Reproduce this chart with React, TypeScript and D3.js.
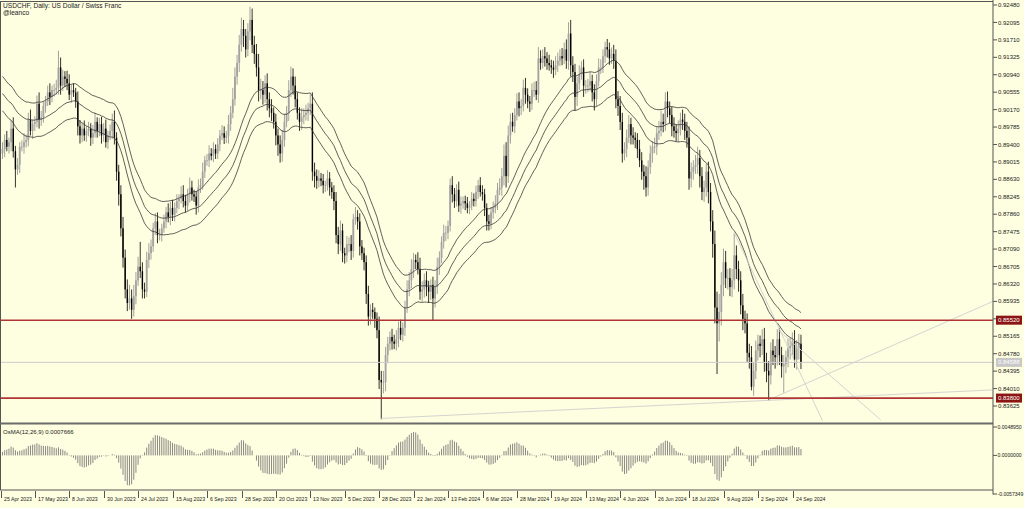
import { useEffect, useRef } from "react";
import * as d3 from "d3";

const W = 1024;
const H = 508;
const AXIS_X = 993;
const MAIN_TOP = 1.5;
const MAIN_BOTTOM = 423;
const SUB_TOP = 425;
const SUB_BOTTOM = 490;
const BG = "#fefee0";
const FONT = "'Liberation Sans', Arial, sans-serif";

// first bar of the chart and the days the broker has no daily bar
const firstDay = "2023-04-25";
const holidays = ["2023-12-25", "2024-01-01"];

// closes (in pips) of the bars before the first visible one, used by the indicators
const priorCloses = [
  9400, 9415, 9390, 9410, 9355, 9335, 9385, 9395, 9330, 9225, 9145, 9185, 9285, 9250, 9245, 9295,
  9185, 9150, 9190, 9215, 9200, 9195, 9225, 9190, 9170, 9140, 9160, 9130, 9150, 9110, 9095, 9125, 9070,
  9045, 9065, 9070, 9080, 9055, 8980, 8925, 8955, 8965, 8945, 8980, 8935, 8965, 8910, 8940, 8935, 8920,
];

// daily closes, in pips (0.0001)
const closes = [
  8930, 8950, 8935, 8945, 8975, 8925, 8885, 8895, 8935, 8935,
  8945, 8950, 8995, 8970, 8985, 8990, 9030, 8995, 9000, 9025,
  9035, 9055, 9045, 9060, 9060, 9065, 9110, 9070, 9090, 9085,
  9075, 9050, 9060, 9055, 9035, 8980, 8960, 8975, 8960, 8970,
  8975, 8955, 8965, 8990, 8970, 8985, 8960, 8975, 8945, 8960,
  8970, 8990, 8955, 8880, 8830, 8755, 8690, 8620, 8590, 8600,
  8575, 8605, 8640, 8670, 8660, 8620, 8615, 8685, 8700, 8715,
  8755, 8770, 8740, 8740, 8755, 8770, 8790, 8780, 8800, 8785,
  8800, 8815, 8820, 8830, 8815, 8805, 8830, 8845, 8830, 8825,
  8805, 8845, 8850, 8880, 8905, 8905, 8920, 8915, 8930, 8920,
  8940, 8960, 8965, 8955, 8960, 8985, 9010, 9040, 9090, 9120,
  9160, 9195, 9180, 9150, 9190, 9215, 9160, 9140, 9110, 9060,
  9060, 9050, 9075, 9040, 9020, 9010, 8990, 8960, 8940, 8920,
  8950, 8990, 9010, 9060, 9090, 9070, 9040, 9010, 8990, 9000,
  9005, 9010, 9020, 9030, 8880, 8870, 8860, 8865, 8860, 8850,
  8850, 8865, 8845, 8835, 8815, 8740, 8720, 8750, 8700, 8695,
  8720, 8720, 8705, 8775, 8780, 8770, 8715, 8700, 8680, 8610,
  8560, 8575, 8570, 8555, 8530, 8420, 8415, 8415, 8475, 8500,
  8515, 8505, 8500, 8510, 8535, 8520, 8535, 8580, 8620, 8640,
  8665, 8685, 8680, 8665, 8615, 8620, 8640, 8625, 8615, 8630,
  8600, 8625, 8670, 8690, 8725, 8745, 8745, 8760, 8850, 8830,
  8815, 8840, 8805, 8810, 8815, 8810, 8800, 8805, 8820, 8815,
  8835, 8850, 8835, 8830, 8800, 8770, 8765, 8790, 8800, 8810,
  8840, 8845, 8870, 8915, 8870, 8960, 8990, 8980, 9005, 9035,
  9020, 9025, 9065, 9050, 9035, 9030, 9060, 9060, 9050, 9130,
  9120, 9135, 9130, 9120, 9115, 9110, 9105, 9115, 9125, 9135,
  9130, 9150, 9125, 9185, 9115, 9100, 9045, 9075, 9095, 9110,
  9070, 9070, 9070, 9080, 9055, 9040, 9080, 9110, 9110, 9135,
  9155, 9150, 9130, 9140, 9125, 9040, 9025, 8990, 8920, 8930,
  8955, 8985, 8960, 8955, 8950, 8930, 8905, 8880, 8870, 8845,
  8890, 8920, 8935, 8935, 8965, 8970, 8990, 8985, 9035, 9020,
  9005, 8980, 8970, 8965, 8975, 8995, 8990, 8970, 8955, 8865,
  8880, 8890, 8895, 8910, 8870, 8835, 8845, 8880, 8835, 8770,
  8720, 8580, 8545, 8570, 8630, 8680, 8645, 8645, 8625, 8640,
  8695, 8665, 8640, 8585, 8555, 8545, 8480, 8470, 8405, 8440,
  8485, 8500, 8495, 8510, 8460, 8440, 8430, 8485, 8475, 8470,
  8510, 8475, 8450, 8455, 8470, 8490, 8495, 8505, 8465, 8490,
  8500, 8459,
];

// high above the body top, in pips
const upperWicks = [
  15, 12, 20, 10, 18, 25, 12, 15, 10, 14, 20, 12, 15, 22, 10, 12, 18, 25, 14, 10,
  12, 15, 20, 10, 14, 18, 37, 22, 15, 12, 18, 20, 12, 15, 10, 22, 14, 12, 18, 10,
  15, 12, 18, 20, 10, 14, 16, 12, 20, 10, 14, 18, 25, 12, 15, 20, 25, 18, 22, 30,
  20, 25, 18, 22, 55, 20, 15, 18, 22, 15, 12, 18, 20, 14, 10, 15, 12, 20, 14, 18,
  12, 15, 10, 18, 20, 14, 12, 22, 15, 10, 12, 18, 15, 20, 10, 14, 18, 12, 15, 10,
  14, 12, 18, 15, 10, 20, 15, 25, 20, 18, 22, 25, 20, 15, 18, 29, 25, 20, 22, 30,
  25, 20, 18, 22, 15, 20, 12, 18, 15, 20, 22, 18, 15, 22, 22, 18, 20, 15, 12, 20,
  15, 18, 12, 20, 25, 20, 15, 18, 12, 15, 10, 18, 14, 12, 15, 20, 18, 22, 15, 12,
  18, 15, 20, 12, 22, 15, 18, 14, 12, 15, 18, 12, 15, 10, 14, 30, 20, 25, 18, 15,
  12, 18, 15, 20, 14, 18, 12, 15, 20, 18, 22, 15, 12, 22, 25, 18, 15, 20, 14, 12,
  18, 15, 20, 14, 12, 18, 15, 12, 15, 20, 14, 12, 18, 15, 10, 12, 14, 10, 15, 12,
  14, 12, 18, 15, 12, 10, 15, 12, 14, 18, 15, 20, 18, 25, 30, 22, 18, 20, 15, 18,
  20, 15, 18, 22, 14, 12, 15, 18, 20, 25, 18, 15, 20, 14, 18, 12, 15, 20, 18, 15,
  18, 15, 22, 25, 30, 20, 18, 15, 20, 14, 18, 12, 15, 20, 14, 18, 15, 20, 18, 15,
  12, 18, 15, 14, 20, 25, 18, 22, 20, 15, 18, 20, 14, 18, 12, 15, 20, 18, 15, 22,
  15, 18, 12, 20, 15, 22, 25, 18, 20, 22, 15, 18, 20, 14, 18, 15, 22, 18, 20, 25,
  20, 15, 22, 25, 18, 20, 15, 18, 22, 20, 25, 30, 35, 40, 28, 30, 25, 20, 22, 25,
  50, 22, 18, 20, 25, 18, 22, 20, 25, 18, 22, 20, 18, 22, 25, 20, 22, 18, 25, 20,
  22, 25, 18, 20, 15, 22, 18, 20, 25, 18, 22, 20,
];

// low below the body bottom, in pips
const lowerWicks = [
  12, 18, 10, 15, 20, 14, 40, 12, 18, 10, 15, 12, 14, 10, 18, 15, 12, 20, 14, 12,
  15, 10, 18, 12, 14, 10, 15, 20, 12, 18, 15, 12, 18, 10, 14, 20, 18, 15, 12, 14,
  12, 18, 14, 10, 15, 12, 18, 14, 12, 15, 10, 18, 15, 20, 25, 18, 22, 20, 18, 15,
  20, 15, 18, 12, 15, 20, 15, 12, 18, 14, 12, 15, 18, 12, 14, 10, 15, 12, 18, 14,
  15, 12, 18, 10, 14, 15, 12, 18, 14, 12, 20, 15, 12, 10, 14, 12, 15, 10, 14, 12,
  12, 15, 10, 14, 12, 18, 15, 12, 14, 18, 20, 15, 25, 18, 15, 20, 18, 22, 20, 25,
  20, 22, 18, 25, 20, 18, 15, 22, 25, 20, 18, 15, 12, 18, 15, 20, 18, 15, 20, 18,
  15, 12, 18, 15, 20, 25, 18, 15, 12, 18, 15, 12, 18, 15, 20, 18, 22, 15, 20, 18,
  15, 18, 20, 15, 12, 18, 20, 15, 18, 22, 20, 18, 15, 20, 18, 20, 82, 25, 20, 18,
  15, 18, 12, 15, 18, 12, 15, 18, 12, 15, 18, 20, 15, 12, 18, 22, 18, 20, 25, 18,
  48, 20, 15, 18, 12, 15, 18, 14, 12, 18, 15, 12, 14, 18, 12, 15, 12, 14, 10, 12,
  12, 15, 10, 14, 18, 20, 15, 12, 14, 12, 15, 12, 18, 20, 25, 15, 18, 12, 15, 12,
  18, 15, 12, 20, 15, 18, 14, 15, 12, 18, 15, 12, 18, 15, 12, 14, 18, 12, 15, 12,
  15, 12, 18, 20, 25, 22, 30, 20, 15, 12, 25, 18, 15, 12, 20, 25, 15, 12, 14, 12,
  15, 18, 14, 12, 18, 20, 22, 18, 20, 15, 18, 12, 20, 15, 18, 20, 15, 18, 30, 20,
  18, 15, 20, 14, 18, 15, 12, 18, 15, 20, 18, 22, 15, 18, 20, 15, 18, 20, 22, 25,
  20, 18, 15, 20, 25, 18, 22, 20, 25, 22, 30, 35, 112, 40, 30, 25, 22, 25, 20, 22,
  20, 22, 25, 20, 25, 22, 20, 25, 8, 20, 18, 22, 25, 20, 22, 25, 55, 20, 22, 25,
  18, 22, 25, 58, 20, 22, 25, 20, 18, 22, 25, 15,
];

const priceTicks = [
  0.92480, 0.92095, 0.91710, 0.91325, 0.90940, 0.90555, 0.90170, 0.89785, 0.89400, 0.89015, 0.88630, 0.88245,
  0.87860, 0.87475, 0.87090, 0.86705, 0.86320, 0.85935, 0.85550, 0.85165, 0.84780, 0.84395, 0.84010, 0.83625,
];
const oscTicks = [0.004895, 0, -0.0057349];
const oscTickLabels = ["0.0048950", "0.0000000", "-0.0057349"];
const dateTicks = [
  "25 Apr 2023", "17 May 2023", "8 Jun 2023", "30 Jun 2023", "24 Jul 2023", "15 Aug 2023", "6 Sep 2023",
  "28 Sep 2023", "20 Oct 2023", "13 Nov 2023", "5 Dec 2023", "28 Dec 2023", "22 Jan 2024", "13 Feb 2024",
  "6 Mar 2024", "28 Mar 2024", "19 Apr 2024", "13 May 2024", "4 Jun 2024", "26 Jun 2024", "18 Jul 2024",
  "9 Aug 2024", "2 Sep 2024", "24 Sep 2024",
];

// horizontal levels drawn on the chart
const levelPrices = [0.8552, 0.838];
const levelLabels = ["0.85520", "0.83800"];
const bidPrice = 0.84588;
const bidLabel = "0.84588";

// trend lines: [bar, price] -> [bar, price]
const trendLines: [number, number, number, number][] = [
  [175.5, 0.8335, 460, 0.8398],
  [356, 0.8376, 460, 0.8593],
  [340, 0.8745, 381, 0.833],
  [360, 0.8532, 408, 0.8332],
];

// envelopes on an exponential MA of the close
const envPeriod = 34;
const envDeviation = 0.0042;
const osmaTitle = "OsMA(12,26,9) 0.0007666";

function sma(values: number[], n: number) {
  return values.map((_, i) => (i < n - 1 ? NaN : d3.mean(values.slice(i - n + 1, i + 1)) as number));
}
function ema(values: number[], n: number) {
  const k = 2 / (n + 1);
  const out: number[] = [];
  values.forEach((v, i) => out.push(i === 0 ? v : v * k + out[i - 1] * (1 - k)));
  return out;
}

export default function App() {
  const ref = useRef<SVGSVGElement>(null);

  useEffect(() => {
    if (!ref.current) return;
    const svg = d3.select(ref.current);
    svg.selectAll("*").remove();

    // bars
    const bars = closes.map((c, i) => {
      const close = c / 10000;
      const open = (i === 0 ? priorCloses[priorCloses.length - 1] : closes[i - 1]) / 10000;
      const high = Math.max(open, close) + upperWicks[i] / 10000;
      const low = Math.min(open, close) - lowerWicks[i] / 10000;
      return { i, open, close, high, low };
    });

    // trading dates
    const fmtIso = d3.utcFormat("%Y-%m-%d");
    const fmtLabel = d3.utcFormat("%-d %b %Y");
    const dates: Date[] = [];
    let d = d3.utcParse("%Y-%m-%d")(firstDay) as Date;
    while (dates.length < closes.length) {
      const dow = d.getUTCDay();
      if (dow !== 0 && dow !== 6 && !holidays.includes(fmtIso(d))) dates.push(d);
      d = d3.utcDay.offset(d, 1);
    }

    const x = d3.scaleLinear().domain([0, 368]).range([2.5, 794.5]);
    const y = d3.scaleLinear().domain([0.83625, 0.9248]).range([406, 5]);
    const yo = d3.scaleLinear().domain([-0.0057349, 0.004895]).range([491, 425]);

    // indicators
    const all = [...priorCloses, ...closes].map((v) => v / 10000);
    const n0 = priorCloses.length;
    const mid = ema(all, envPeriod).slice(n0);
    const e12 = ema(all, 12);
    const e26 = ema(all, 26);
    const macd = all.map((_, i) => e12[i] - e26[i]);
    const sig = sma(macd, 9);
    const osma = macd.map((m, i) => m - sig[i]).slice(n0);

    svg.append("rect").attr("width", W).attr("height", H).attr("fill", BG);

    const defs = svg.append("defs");
    defs.append("clipPath").attr("id", "clipMain").append("rect")
      .attr("x", 0).attr("y", MAIN_TOP).attr("width", AXIS_X).attr("height", MAIN_BOTTOM - MAIN_TOP);
    defs.append("clipPath").attr("id", "clipSub").append("rect")
      .attr("x", 0).attr("y", SUB_TOP).attr("width", AXIS_X).attr("height", SUB_BOTTOM - SUB_TOP);

    const main = svg.append("g").attr("clip-path", "url(#clipMain)");

    // candles
    const cg = main.append("g");
    cg.selectAll("line.wick").data(bars).enter().append("line")
      .attr("x1", (b) => x(b.i)).attr("x2", (b) => x(b.i))
      .attr("y1", (b) => y(b.high)).attr("y2", (b) => y(b.low))
      .attr("stroke", (b) => (b.close >= b.open ? "#8a8a8a" : "#000"))
      .attr("stroke-width", 0.8);
    cg.selectAll("rect.body").data(bars).enter().append("rect")
      .attr("x", (b) => x(b.i) - (b.close >= b.open ? 0.9 : 0.7))
      .attr("width", (b) => (b.close >= b.open ? 1.8 : 1.4))
      .attr("y", (b) => y(Math.max(b.open, b.close)))
      .attr("height", (b) => Math.max(0.8, Math.abs(y(b.open) - y(b.close))))
      .attr("fill", (b) => (b.close >= b.open ? "#a2a2a2" : "#000"));

    // envelopes
    [1 + envDeviation, 1, 1 - envDeviation].forEach((k) => {
      const line = d3.line<number>()
        .x((_, i) => x(i))
        .y((v) => y(v * k));
      main.append("path").attr("d", line(mid)).attr("fill", "none")
        .attr("stroke", "#3a3a3a").attr("stroke-width", 0.8);
    });

    // trend lines
    main.selectAll("line.trend").data(trendLines).enter().append("line")
      .attr("x1", (t) => x(t[0])).attr("y1", (t) => y(t[1]))
      .attr("x2", (t) => x(t[2])).attr("y2", (t) => y(t[3]))
      .attr("stroke", "#cfcfcf").attr("stroke-width", 0.9);

    // bid line
    main.append("line").attr("x1", 0).attr("x2", AXIS_X)
      .attr("y1", y(bidPrice)).attr("y2", y(bidPrice))
      .attr("stroke", "#cccccc").attr("stroke-width", 1);

    // levels
    main.selectAll("line.level").data(levelPrices).enter().append("line")
      .attr("x1", 0).attr("x2", AXIS_X)
      .attr("y1", (p) => y(p)).attr("y2", (p) => y(p))
      .attr("stroke", "#b03434").attr("stroke-width", 1.6);

    // title
    const title = svg.append("g").attr("font-family", FONT).attr("font-size", 6.6).attr("fill", "#222");
    title.append("text").attr("x", 3).attr("y", 8).text("USDCHF, Daily:  US Dollar / Swiss Franc");
    title.append("text").attr("x", 3).attr("y", 14.5).text("@leanco");

    // oscillator
    const sub = svg.append("g").attr("clip-path", "url(#clipSub)");
    sub.selectAll("line.osma").data(osma).enter().append("line")
      .attr("x1", (_, i) => x(i)).attr("x2", (_, i) => x(i))
      .attr("y1", yo(0)).attr("y2", (v) => yo(v))
      .attr("stroke", "#7c7c7c").attr("stroke-width", 0.9);
    svg.append("text").attr("x", 3).attr("y", 434).attr("font-family", FONT)
      .attr("font-size", 6).attr("fill", "#222").text(osmaTitle);

    // frames
    const frame = svg.append("g").attr("stroke", "#555").attr("fill", "none");
    frame.append("line").attr("x1", 0).attr("x2", AXIS_X).attr("y1", MAIN_TOP).attr("y2", MAIN_TOP);
    frame.append("line").attr("x1", 0.5).attr("x2", 0.5).attr("y1", MAIN_TOP).attr("y2", SUB_BOTTOM);
    frame.append("line").attr("x1", 0).attr("x2", AXIS_X).attr("y1", MAIN_BOTTOM + 0.5).attr("y2", MAIN_BOTTOM + 0.5)
      .attr("stroke-width", 2).attr("stroke", "#6a6a6a");
    frame.append("line").attr("x1", 0).attr("x2", AXIS_X).attr("y1", SUB_BOTTOM).attr("y2", SUB_BOTTOM);
    frame.append("line").attr("x1", AXIS_X).attr("x2", AXIS_X).attr("y1", 0).attr("y2", 494.5);

    // right price axis
    const axisText = svg.append("g").attr("font-family", FONT).attr("font-size", 6).attr("fill", "#222");
    priceTicks.forEach((p) => {
      axisText.append("line").attr("x1", AXIS_X).attr("x2", AXIS_X + 4).attr("y1", y(p)).attr("y2", y(p))
        .attr("stroke", "#555");
      axisText.append("text").attr("x", AXIS_X + 5).attr("y", y(p) + 2.1).text(d3.format(".5f")(p));
    });
    oscTicks.forEach((v, k) => {
      const yy = k === oscTicks.length - 1 ? 494 : yo(v) + (k === 0 ? 2 : 0);
      axisText.append("line").attr("x1", AXIS_X).attr("x2", AXIS_X + 4).attr("y1", yy).attr("y2", yy)
        .attr("stroke", "#555");
      axisText.append("text").attr("x", AXIS_X + 4.5).attr("y", yy + 2).attr("font-size", 5.1)
        .text(oscTickLabels[k]);
    });

    // price labels on axis
    const boxes = [
      ...levelPrices.map((p, k) => ({ p, t: levelLabels[k], fill: "#8b1414" })),
      { p: bidPrice, t: bidLabel, fill: "#c8c8c8" },
    ];
    boxes.forEach((b) => {
      svg.append("rect").attr("x", AXIS_X + 3).attr("y", y(b.p) - 4.5).attr("width", 26).attr("height", 9)
        .attr("fill", b.fill);
      svg.append("text").attr("x", AXIS_X + 5).attr("y", y(b.p) + 2.1).attr("font-family", FONT)
        .attr("font-size", 6).attr("fill", "#fff").text(b.t);
    });

    // date axis
    const dg = svg.append("g").attr("font-family", FONT).attr("font-size", 5.2).attr("fill", "#222");
    dateTicks.forEach((label) => {
      const idx = dates.findIndex((dt) => fmtLabel(dt) === label);
      if (idx < 0) return;
      const xx = Math.round(x(idx)) - 1.5;
      dg.append("line").attr("x1", xx).attr("x2", xx).attr("y1", 491).attr("y2", 498).attr("stroke", "#555");
      dg.append("text").attr("x", xx + 2.5).attr("y", 501).text(label);
    });

    return () => {
      svg.selectAll("*").remove();
    };
  }, []);

  return (
    <svg
      ref={ref}
      width={W}
      height={H}
      style={{ position: "absolute", left: 0, top: 0, display: "block" }}
    />
  );
}
